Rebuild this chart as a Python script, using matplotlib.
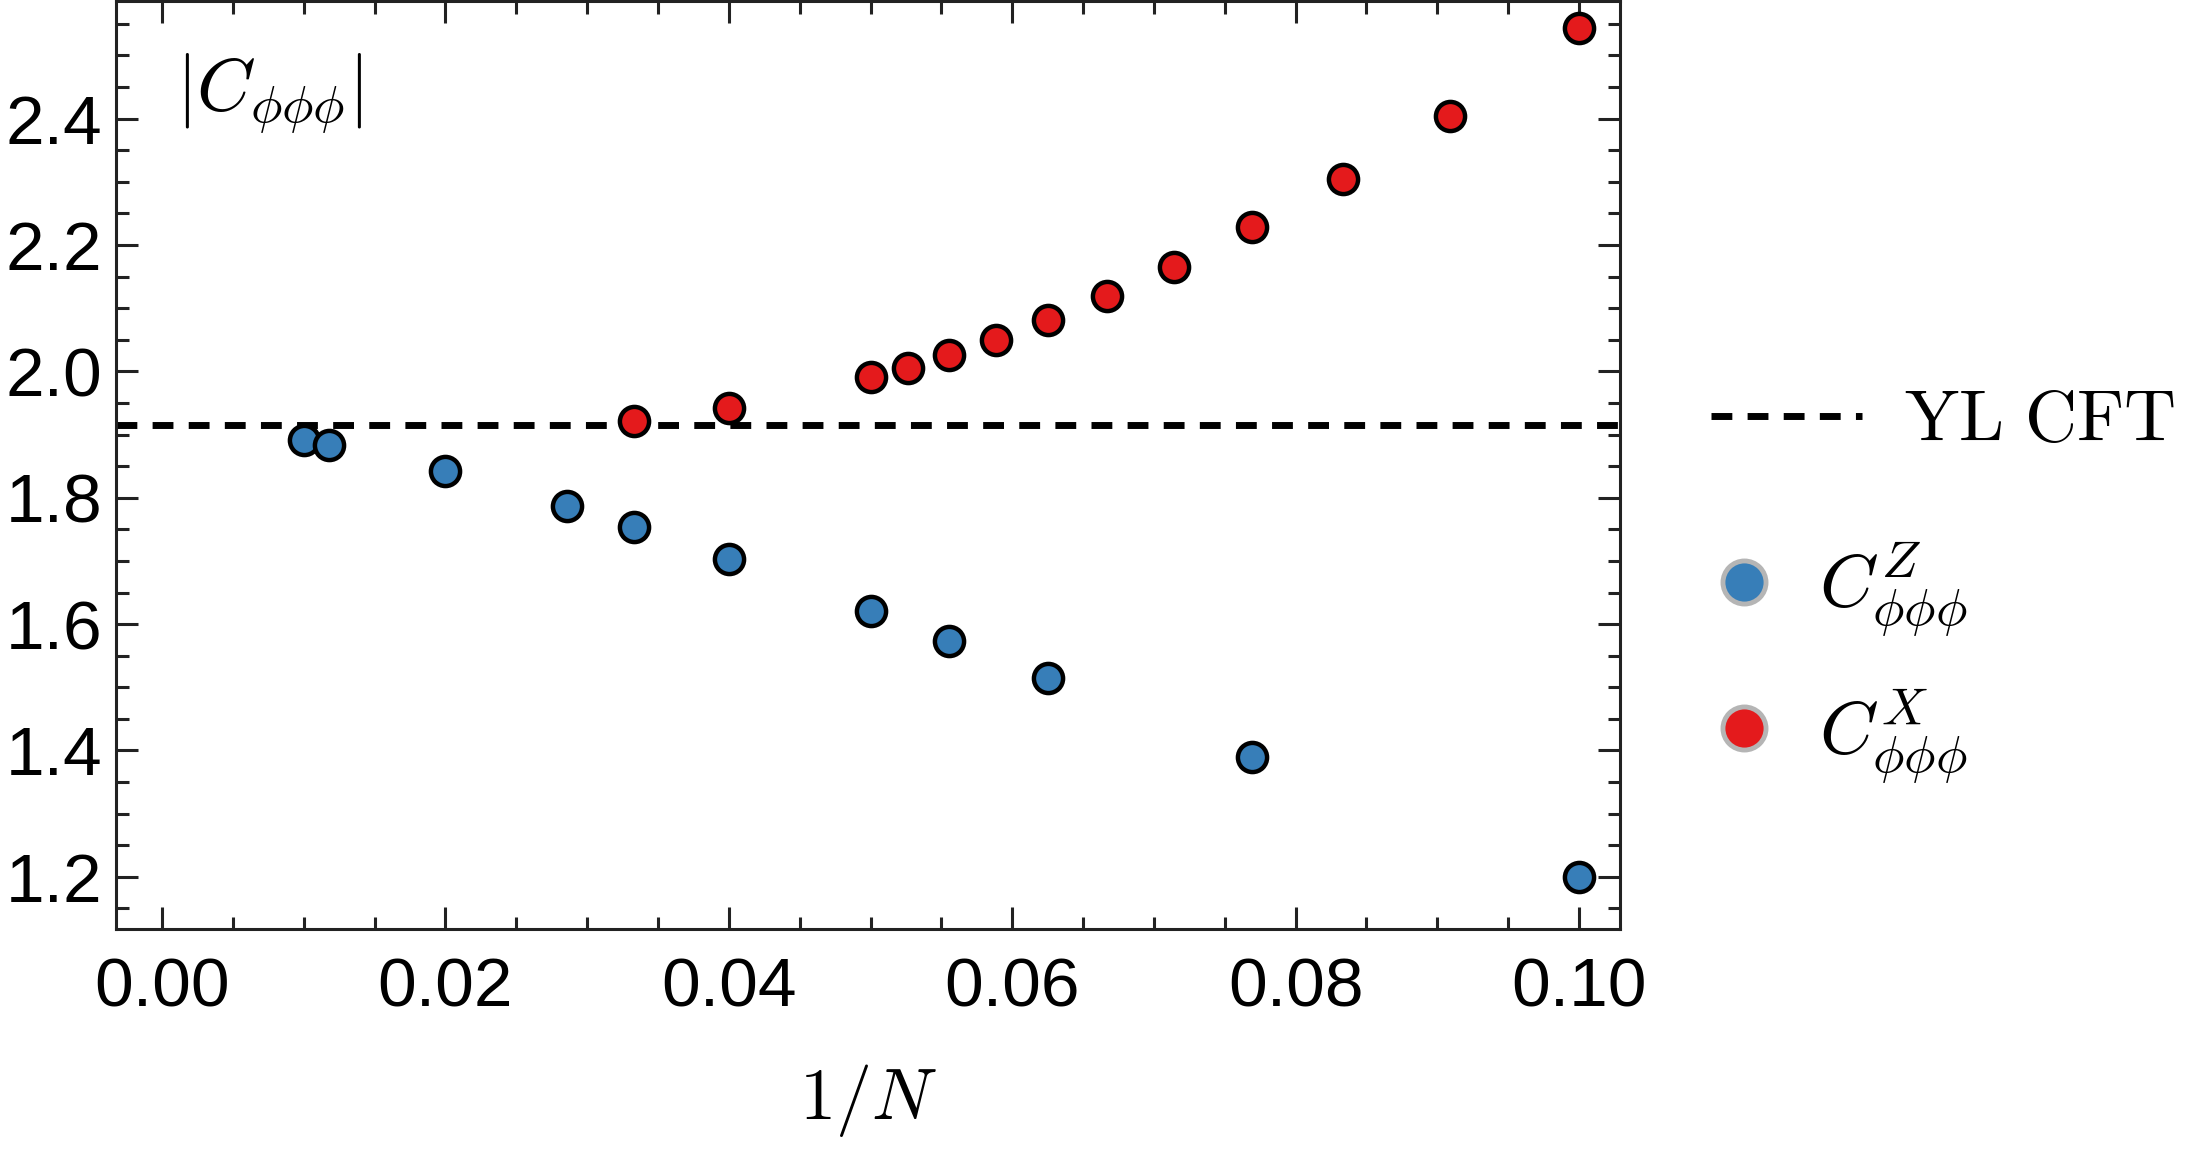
import numpy as np
import matplotlib
matplotlib.use("Agg")
import matplotlib.pyplot as plt
from matplotlib.lines import Line2D
from matplotlib.ticker import MultipleLocator

# data: 1/N and |C_phiphiphi|
n_z = [100, 85, 50, 35, 30, 25, 20, 18, 16, 13, 10]
c_z = [1.891, 1.884, 1.842, 1.787, 1.754, 1.703, 1.621, 1.574, 1.514, 1.390, 1.200]
n_x = [30, 25, 20, 19, 18, 17, 16, 15, 14, 13, 12, 11, 10]
c_x = [1.922, 1.942, 1.991, 2.006, 2.026, 2.050, 2.081, 2.119, 2.166, 2.228, 2.305, 2.405, 2.544]
yl_cft = 1.915

blue = "#377eb8"
red = "#e41a1c"
dash = (0, (3, 2.2))

plt.rcParams["mathtext.fontset"] = "cm"
tick_font = ["Liberation Sans Narrow", "Liberation Sans", "DejaVu Sans"]

fig = plt.figure(figsize=(21.96, 11.55), dpi=100)
ax = fig.add_axes([0.0528, 0.196, 0.6849, 0.803])

ax.axhline(yl_cft, color="black", lw=5, ls=dash)
ax.plot(1 / np.array(n_z), c_z, "o", ms=21, mfc=blue, mec="black", mew=3.2, ls="none")
ax.plot(1 / np.array(n_x), c_x, "o", ms=21, mfc=red, mec="black", mew=3.2, ls="none")

ax.set_xlim(-0.00326, 0.1029)
ax.set_ylim(1.118, 2.586)
ax.xaxis.set_major_locator(MultipleLocator(0.02))
ax.xaxis.set_minor_locator(MultipleLocator(0.005))
ax.yaxis.set_major_locator(MultipleLocator(0.2))
ax.yaxis.set_minor_locator(MultipleLocator(0.05))
ax.xaxis.set_major_formatter(lambda v, p: f"{v:.2f}")
ax.yaxis.set_major_formatter(lambda v, p: f"{v:.1f}")
ax.tick_params(which="both", direction="in", top=True, right=True, width=2.2, color="#222222")
ax.tick_params(which="major", length=16)
ax.tick_params(which="minor", length=9)
ax.tick_params(axis="x", pad=20)
ax.tick_params(axis="y", pad=10)
for lab in ax.get_xticklabels() + ax.get_yticklabels():
    lab.set_family(tick_font)
    lab.set_fontsize(50)
for sp in ax.spines.values():
    sp.set_linewidth(2.2)
    sp.set_color("#222222")

ax.text(0.04, 0.9, r"$|C_{\phi\phi\phi}|$", transform=ax.transAxes, fontsize=54,
        ha="left", va="center")
ax.set_xlabel(r"$1/N$", fontsize=52, labelpad=30)

# legend: line entry
line_h = [Line2D([], [], color="black", lw=5, ls=dash)]
fig.legend(line_h, [r"$\mathrm{YL\ CFT}$"], loc="center left", bbox_to_anchor=(0.779, 0.635),
           frameon=False, fontsize=52, handlelength=2.1, handletextpad=0.58,
           borderpad=0, borderaxespad=0)

# legend: point entries
pt_h = [
    Line2D([], [], marker="o", ls="none", ms=31, mfc=blue, mec="#b5b5b5", mew=3.5),
    Line2D([], [], marker="o", ls="none", ms=31, mfc=red, mec="#b5b5b5", mew=3.5),
]
fig.legend(pt_h, [r"$C^{Z}_{\phi\phi\phi}$", r"$C^{X}_{\phi\phi\phi}$"], loc="center left",
           bbox_to_anchor=(0.784, 0.425), frameon=False, fontsize=54, handlelength=0.6,
           handletextpad=0.7, labelspacing=0.62, borderpad=0, borderaxespad=0)

fig.savefig("out.png", dpi=100)
